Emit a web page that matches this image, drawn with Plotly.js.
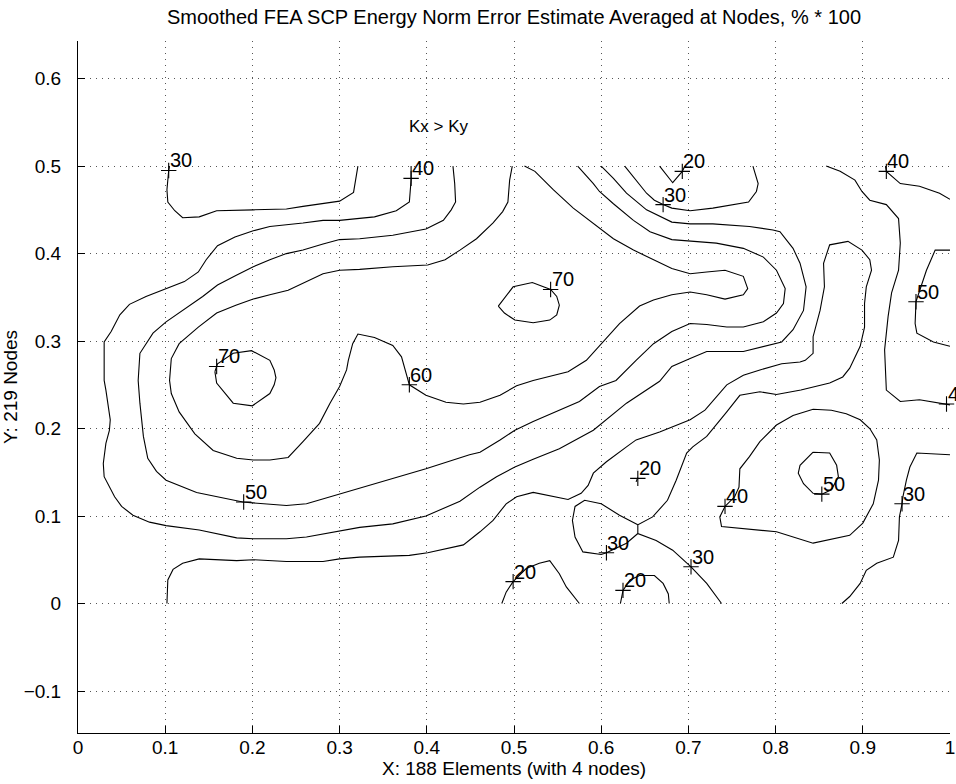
<!DOCTYPE html>
<html>
<head>
<meta charset="utf-8">
<script src="https://cdn.plot.ly/plotly-3.0.1.min.js"></script>
<style>
  html, body { margin: 0; padding: 0; background: #fff; }
  #chart { width: 956px; height: 784px; }
</style>
</head>
<body>
<div id="chart"></div>
<script>
// Contour polylines of the smoothed SCP error estimate, [x, y] in model units.
const c30_topLeft = [[0.105,0.500],[0.104,0.495],[0.102,0.473],[0.103,0.459],[0.111,0.449],[0.120,0.441],[0.139,0.442],[0.159,0.449],[0.201,0.450],[0.239,0.451],[0.258,0.454],[0.300,0.460],[0.316,0.470],[0.321,0.500]];

const c40_main = [[0.382,0.500],[0.382,0.484],[0.380,0.459],[0.365,0.449],[0.340,0.442],[0.323,0.440],
  [0.300,0.438],[0.281,0.438],[0.258,0.435],[0.220,0.431],[0.201,0.426],[0.180,0.419],[0.160,0.409],[0.147,0.393],[0.138,0.379],[0.122,0.368],[0.101,0.360],[0.078,0.351],[0.059,0.342],[0.048,0.330],[0.038,0.311],[0.030,0.299],[0.030,0.255],
  [0.032,0.244],[0.037,0.210],[0.036,0.198],[0.032,0.183],[0.029,0.160],[0.030,0.145],[0.036,0.133],[0.042,0.122],[0.050,0.111],[0.063,0.101],[0.082,0.093],[0.101,0.089],[0.139,0.084],[0.182,0.075],[0.201,0.074],[0.239,0.074],[0.262,0.076],[0.300,0.083],
  [0.323,0.087],[0.361,0.091],[0.399,0.100],[0.438,0.117],[0.461,0.133],[0.480,0.145],[0.501,0.156],[0.522,0.165],[0.552,0.177],[0.591,0.198],[0.629,0.229],[0.667,0.254],
  [0.681,0.271],[0.702,0.280],[0.721,0.288],[0.763,0.288],[0.807,0.299],
  [0.820,0.313],[0.832,0.335],[0.835,0.362],[0.828,0.389],[0.820,0.406],[0.805,0.425],
  [0.797,0.427],[0.770,0.431],[0.728,0.434],[0.702,0.434],[0.681,0.436],[0.652,0.450],[0.629,0.469],[0.614,0.486],[0.600,0.500]];

const c50_main = [[0.430,0.500],[0.432,0.480],[0.433,0.459],[0.428,0.450],[0.419,0.438],[0.399,0.428],[0.361,0.421],[0.323,0.417],
  [0.300,0.416],[0.281,0.411],[0.258,0.404],[0.239,0.400],[0.220,0.393],[0.201,0.385],[0.181,0.375],[0.160,0.364],[0.143,0.351],[0.122,0.337],[0.101,0.322],[0.086,0.309],[0.071,0.286],[0.069,0.255],
  [0.071,0.229],[0.075,0.191],[0.080,0.166],[0.090,0.151],[0.101,0.141],[0.136,0.127],[0.189,0.116],[0.201,0.115],[0.239,0.112],[0.262,0.114],[0.300,0.125],
  [0.323,0.132],[0.361,0.143],[0.399,0.154],[0.449,0.170],[0.461,0.173],[0.484,0.187],[0.501,0.198],[0.522,0.208],[0.552,0.221],[0.575,0.231],[0.598,0.248],
  [0.617,0.255],[0.640,0.278],[0.660,0.297],[0.681,0.311],[0.702,0.320],[0.721,0.319],[0.744,0.316],[0.763,0.316],[0.786,0.322],[0.801,0.332],[0.809,0.343],[0.811,0.360],[0.801,0.381],[0.786,0.396],[0.763,0.406],[0.732,0.412],[0.702,0.414],[0.681,0.416],[0.656,0.425],[0.637,0.438],[0.614,0.457],[0.598,0.471],
  [0.591,0.480],[0.573,0.500]];

const c60_main = [[0.498,0.500],[0.495,0.484],[0.493,0.459],[0.487,0.448],[0.476,0.435],[0.457,0.417],[0.438,0.404],[0.421,0.393],[0.401,0.387],[0.361,0.385],[0.323,0.382],
  [0.300,0.381],[0.281,0.377],[0.262,0.368],[0.241,0.358],[0.220,0.353],[0.201,0.348],[0.181,0.341],[0.159,0.332],[0.138,0.316],[0.116,0.297],[0.107,0.280],[0.105,0.255],
  [0.107,0.240],[0.116,0.219],[0.134,0.194],[0.155,0.175],[0.182,0.166],[0.201,0.164],[0.220,0.164],[0.241,0.167],[0.258,0.185],[0.277,0.206],[0.289,0.229],[0.300,0.248],[0.308,0.267],
  [0.310,0.278],[0.315,0.297],[0.321,0.308],
  [0.340,0.304],[0.361,0.295],[0.371,0.282],[0.375,0.267],[0.378,0.258],[0.380,0.250],
  [0.399,0.238],[0.422,0.230],[0.442,0.228],[0.461,0.230],[0.484,0.238],[0.503,0.249],
  [0.522,0.255],[0.562,0.265],[0.583,0.278],[0.602,0.299],[0.621,0.320],[0.644,0.340],
  [0.660,0.347],[0.681,0.353],[0.702,0.356],[0.721,0.353],[0.742,0.348],[0.763,0.353],[0.768,0.360],[0.763,0.374],[0.742,0.381],[0.721,0.379],[0.702,0.377],[0.681,0.383],[0.660,0.393],[0.637,0.404],[0.614,0.417],[0.598,0.429],
  [0.568,0.452],[0.545,0.473],[0.524,0.494],[0.512,0.500]];

const c70_left = [[0.157,0.265],[0.160,0.274],[0.178,0.286],[0.199,0.289],[0.220,0.278],[0.225,0.267],[0.227,0.258],[0.225,0.250],[0.220,0.240],[0.200,0.226],[0.178,0.229],[0.159,0.252],[0.157,0.265]];
const c70_mid = [[0.482,0.340],[0.499,0.362],[0.521,0.367],[0.542,0.359],[0.549,0.351],[0.552,0.341],[0.549,0.330],[0.541,0.324],[0.522,0.321],[0.501,0.324],[0.489,0.332],[0.482,0.340]];

const c20_topV = [[0.667,0.500],[0.682,0.481],[0.693,0.494],[0.696,0.500]];
const c30_topU = [[0.627,0.500],[0.640,0.484],[0.652,0.469],[0.661,0.461],[0.671,0.456],[0.681,0.452],[0.702,0.449],[0.728,0.452],[0.769,0.459],[0.778,0.471],[0.780,0.480],[0.774,0.500]];
const c40_right = [[0.858,0.500],[0.874,0.494],[0.891,0.484],[0.899,0.471],[0.908,0.461],[0.927,0.456],[0.941,0.440],[0.943,0.412],[0.941,0.381],[0.933,0.355],[0.929,0.328],[0.925,0.290],[0.927,0.244],[0.943,0.231],[0.965,0.233],[0.996,0.228],[1.000,0.227]];
const c40_topRight = [[0.926,0.500],[0.927,0.494],[0.943,0.480],[0.965,0.477],[0.988,0.469],[1.000,0.462]];
const c50_right = [[1.000,0.404],[0.983,0.404],[0.973,0.381],[0.967,0.362],[0.961,0.345],[0.960,0.320],[0.962,0.309],[0.981,0.299],[1.000,0.294]];

const c30_main = [[0.102,0.000],[0.103,0.027],[0.109,0.039],[0.120,0.046],[0.139,0.051],[0.182,0.049],[0.201,0.050],[0.239,0.048],[0.281,0.048],[0.300,0.051],
  [0.323,0.053],[0.380,0.055],[0.401,0.058],[0.442,0.067],[0.461,0.082],[0.476,0.095],[0.491,0.114],[0.503,0.122],[0.522,0.127],[0.562,0.119],[0.577,0.126],[0.585,0.135],[0.591,0.149],[0.606,0.162],[0.629,0.179],[0.640,0.187],[0.667,0.196],
  [0.702,0.210],[0.719,0.221],[0.744,0.250],[0.763,0.261],
  [0.782,0.267],[0.807,0.274],[0.828,0.276],
  [0.834,0.278],[0.843,0.286],[0.843,0.305],[0.851,0.335],[0.856,0.362],[0.855,0.389],[0.862,0.410],[0.883,0.414],[0.899,0.404],[0.908,0.393],[0.910,0.381],[0.904,0.362],[0.902,0.343],[0.902,0.316],[0.897,0.294],[0.885,0.269],[0.877,0.259],[0.862,0.252],
  [0.829,0.244],[0.801,0.239],[0.782,0.242],[0.759,0.238],[0.744,0.219],[0.721,0.191],[0.705,0.179],[0.698,0.172],[0.686,0.141],
  [0.676,0.118],[0.659,0.099],[0.642,0.090],[0.642,0.080],[0.663,0.072],[0.682,0.061],[0.703,0.042],[0.721,0.023],[0.738,0.000]];
const c30_loop = [[0.642,0.090],[0.621,0.101],[0.600,0.114],[0.581,0.118],[0.570,0.111],[0.567,0.095],[0.570,0.076],[0.579,0.059],[0.600,0.056],[0.606,0.058],[0.629,0.069],[0.642,0.080]];
const c40_loop = [[0.742,0.111],[0.736,0.099],[0.738,0.088],[0.770,0.085],[0.801,0.082],[0.843,0.069],[0.885,0.078],[0.900,0.092],[0.912,0.114],[0.918,0.141],[0.919,0.164],[0.916,0.187],[0.908,0.200],[0.897,0.210],[0.881,0.217],[0.864,0.221],[0.843,0.222],[0.820,0.215],[0.801,0.204],[0.782,0.185],[0.770,0.168],[0.759,0.154],[0.758,0.133],[0.753,0.122],[0.742,0.111]];
const c50_loop = [[0.843,0.173],[0.862,0.172],[0.870,0.158],[0.872,0.145],[0.864,0.130],[0.853,0.125],[0.843,0.126],[0.832,0.137],[0.826,0.149],[0.828,0.158],[0.843,0.173]];
const c30_right = [[1.000,0.170],[0.962,0.172],[0.954,0.156],[0.950,0.141],[0.946,0.122],[0.945,0.114],[0.942,0.099],[0.941,0.072],[0.935,0.053],[0.916,0.046],[0.904,0.038],[0.897,0.023],[0.885,0.008],[0.876,0.000]];
const c20_hump1 = [[0.486,0.000],[0.491,0.013],[0.499,0.025],[0.514,0.040],[0.529,0.046],[0.541,0.049],[0.552,0.034],[0.560,0.019],[0.575,0.000]];
const c20_hump2 = [[0.622,0.000],[0.625,0.015],[0.633,0.027],[0.644,0.032],[0.661,0.032],[0.671,0.023],[0.677,0.011],[0.678,0.000]];
const c20_dot = [[0.640,0.139],[0.642,0.144]];

// Contour labels: "+" anchor point and level value.
const labelX = [0.104, 0.382, 0.159, 0.542, 0.380, 0.190, 0.693, 0.671, 0.927, 0.961, 0.996, 0.642, 0.742, 0.853, 0.945, 0.606, 0.703, 0.499, 0.625];
const labelY = [0.495, 0.486, 0.271, 0.359, 0.250, 0.116, 0.494, 0.456, 0.494, 0.345, 0.228, 0.143, 0.111, 0.125, 0.114, 0.058, 0.042, 0.025, 0.015];
const labelV = [30, 40, 70, 70, 60, 50, 20, 30, 40, 50, 40, 20, 40, 50, 30, 30, 30, 20, 20];

// Axis ticks
const xTicks = [0, 0.1, 0.2, 0.3, 0.4, 0.5, 0.6, 0.7, 0.8, 0.9, 1];
const yTicks = [-0.1, 0, 0.1, 0.2, 0.3, 0.4, 0.5, 0.6];

const FONT = 'Liberation Sans, Arial, Helvetica, sans-serif';
const paths = [c30_topLeft, c40_main, c50_main, c60_main, c70_left, c70_mid, c20_topV, c30_topU,
  c40_right, c40_topRight, c50_right, c30_main, c30_loop, c40_loop, c50_loop, c30_right,
  c20_hump1, c20_hump2, c20_dot];

const traces = paths.map(p => ({
  type: 'scatter', mode: 'lines',
  x: p.map(q => q[0]), y: p.map(q => q[1]),
  line: { color: '#000', width: 1.1 },
  hoverinfo: 'skip', showlegend: false
}));

traces.push({
  type: 'scatter', mode: 'markers',
  x: labelX, y: labelY,
  marker: { symbol: 'cross-thin', size: 11, line: { color: '#000', width: 1.1 } },
  cliponaxis: false, hoverinfo: 'skip', showlegend: false
});

const annotations = labelX.map((x, i) => ({
  x: x, y: labelY[i], xref: 'x', yref: 'y',
  text: String(labelV[i]), showarrow: false,
  xanchor: 'left', yanchor: 'bottom', xshift: -1, yshift: -3,
  font: { family: FONT, size: 20, color: '#000' }
}));
annotations.push({
  x: 0.377, y: 0.545, xref: 'x', yref: 'y', text: 'Kx > Ky', showarrow: false,
  xanchor: 'left', yanchor: 'middle',
  font: { family: FONT, size: 17, color: '#000' }
});
// x-axis label, placed just under the tick labels
annotations.push({
  x: 0.5, y: 0, xref: 'paper', yref: 'paper', text: 'X: 188 Elements (with 4 nodes)',
  showarrow: false, xanchor: 'center', yanchor: 'middle', yshift: -35,
  font: { family: FONT, size: 19, color: '#000' }
});

const axisCommon = {
  showgrid: true, gridcolor: '#555', gridwidth: 1, griddash: '1px,5px',
  zeroline: false, showline: true, linecolor: '#000', linewidth: 1,
  ticks: 'inside', ticklen: 7, tickcolor: '#000', tickwidth: 1,
  tickfont: { family: FONT, size: 19, color: '#000' },
  fixedrange: true
};

const layout = {
  width: 956, height: 784,
  margin: { l: 78, r: 6, t: 41, b: 51 },
  paper_bgcolor: '#fff', plot_bgcolor: '#fff',
  font: { family: FONT, color: '#000' },
  title: {
    text: 'Smoothed FEA SCP Energy Norm Error Estimate Averaged at Nodes, % * 100',
    font: { family: FONT, size: 20, color: '#000' },
    x: 0.5, xref: 'paper', xanchor: 'center', y: 0.978, yref: 'container', yanchor: 'middle'
  },
  xaxis: Object.assign({}, axisCommon, {
    range: [0, 1], tickvals: xTicks, ticktext: xTicks.map(String),
    ticklabelstandoff: -3,
    title: { text: '' }
  }),
  yaxis: Object.assign({}, axisCommon, {
    range: [-0.148, 0.643], tickvals: yTicks,
    ticktext: yTicks.map(v => v < 0 ? '\u2212' + String(-v) : String(v)),
    ticklabelstandoff: 12,
    title: { text: 'Y: 219 Nodes', font: { family: FONT, size: 19, color: '#000' }, standoff: 2 }
  }),
  annotations: annotations,
  showlegend: false
};

Plotly.newPlot('chart', traces, layout, { displayModeBar: false, staticPlot: true });
</script>
</body>
</html>
